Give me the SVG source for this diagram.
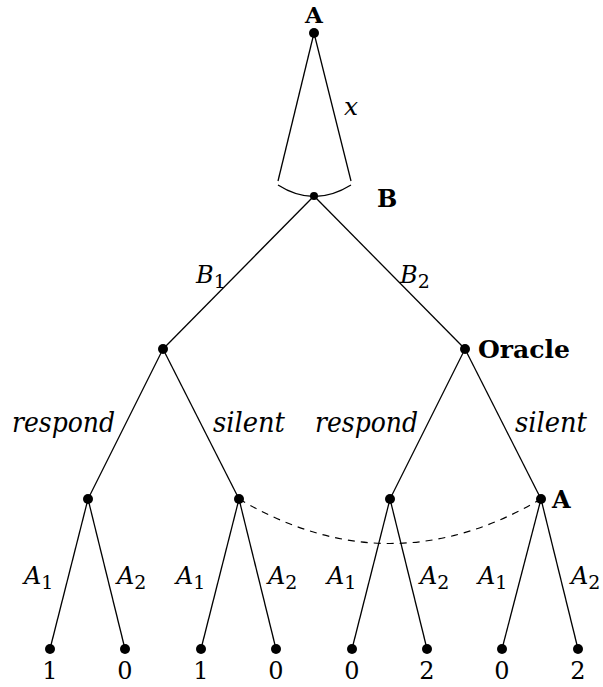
<svg xmlns="http://www.w3.org/2000/svg" width="603" height="687" viewBox="0 0 603 687">
<style>
.e{stroke:#000;stroke-width:1.3;fill:none}
.d{stroke:#000;stroke-width:1.2;fill:none;stroke-dasharray:7,6}
.n{fill:#000}
text{font-size:26px;fill:#000}
.i{font-style:italic;font-size:27px}
.b{font-weight:bold;font-size:27px}
.s{font-style:normal;font-size:19px}
.m{text-anchor:middle}
</style>
<rect width="603" height="687" fill="#fff"/>
<g font-family="'DejaVu Serif', serif">
<g id="connectors">
<line class="e" x1="314" y1="33" x2="278" y2="181"/>
<line class="e" x1="314" y1="33" x2="351" y2="181"/>
<path class="e" d="M278,185 Q314,208 351,185"/>
<line class="e" x1="314" y1="196" x2="163" y2="349"/>
<line class="e" x1="314" y1="196" x2="465" y2="349"/>
<line class="e" x1="163" y1="349" x2="88" y2="499"/>
<line class="e" x1="163" y1="349" x2="239" y2="499"/>
<line class="e" x1="465" y1="349" x2="390" y2="499"/>
<line class="e" x1="465" y1="349" x2="541" y2="499"/>
<line class="e" x1="88" y1="499" x2="50" y2="649"/>
<line class="e" x1="88" y1="499" x2="125" y2="649"/>
<line class="e" x1="239" y1="499" x2="201" y2="649"/>
<line class="e" x1="239" y1="499" x2="276" y2="649"/>
<line class="e" x1="390" y1="499" x2="352" y2="649"/>
<line class="e" x1="390" y1="499" x2="427" y2="649"/>
<line class="e" x1="541" y1="499" x2="502" y2="649"/>
<line class="e" x1="541" y1="499" x2="578" y2="649"/>
<path class="d" d="M239,499 Q390,588 541,499"/>
<text class="i" x="344" y="115" style="font-size:25px">x</text>
<text class="i" x="196" y="283" style="font-size:24px">B<tspan class="s" dy="5">1</tspan></text>
<text class="i" x="400" y="283" style="font-size:24px">B<tspan class="s" dy="5">2</tspan></text>
<text class="i" x="12" y="432" textLength="103" lengthAdjust="spacingAndGlyphs">respond</text>
<text class="i" x="213" y="432" textLength="72" lengthAdjust="spacingAndGlyphs">silent</text>
<text class="i" x="315" y="432" textLength="103" lengthAdjust="spacingAndGlyphs">respond</text>
<text class="i" x="515" y="432" textLength="72" lengthAdjust="spacingAndGlyphs">silent</text>
<text class="i" x="24" y="584" style="font-size:24px">A<tspan class="s" dy="5">1</tspan></text>
<text class="i" x="117" y="584" style="font-size:24px">A<tspan class="s" dy="5">2</tspan></text>
<text class="i" x="176" y="584" style="font-size:24px">A<tspan class="s" dy="5">1</tspan></text>
<text class="i" x="268" y="584" style="font-size:24px">A<tspan class="s" dy="5">2</tspan></text>
<text class="i" x="327" y="584" style="font-size:24px">A<tspan class="s" dy="5">1</tspan></text>
<text class="i" x="420" y="584" style="font-size:24px">A<tspan class="s" dy="5">2</tspan></text>
<text class="i" x="478" y="584" style="font-size:24px">A<tspan class="s" dy="5">1</tspan></text>
<text class="i" x="571" y="584" style="font-size:24px">A<tspan class="s" dy="5">2</tspan></text>
</g>
<g id="root"><circle class="n" cx="314" cy="33" r="5"/><text class="b m" x="314" y="23" style="font-size:23px">A</text></g>
<g id="nodeB"><circle class="n" cx="314" cy="196" r="4"/><text class="b" x="377" y="207" style="font-size:24px">B</text></g>
<g id="n21"><circle class="n" cx="163" cy="349" r="5"/></g>
<g id="oracle"><circle class="n" cx="465" cy="349" r="5"/><text class="b" x="478" y="358" style="font-size:24px" textLength="92" lengthAdjust="spacingAndGlyphs">Oracle</text></g>
<g id="n31"><circle class="n" cx="88" cy="499" r="5"/></g>
<g id="n32"><circle class="n" cx="239" cy="499" r="5"/></g>
<g id="n33"><circle class="n" cx="390" cy="499" r="5"/></g>
<g id="n34"><circle class="n" cx="541" cy="499" r="5"/><text class="b" x="552" y="508" style="font-size:24px">A</text></g>
<g id="l1"><circle class="n" cx="50" cy="649" r="5"/><text class="m" x="50" y="679" style="font-size:24px">1</text></g>
<g id="l2"><circle class="n" cx="125" cy="649" r="5"/><text class="m" x="125" y="679" style="font-size:24px">0</text></g>
<g id="l3"><circle class="n" cx="201" cy="649" r="5"/><text class="m" x="201" y="679" style="font-size:24px">1</text></g>
<g id="l4"><circle class="n" cx="276" cy="649" r="5"/><text class="m" x="276" y="679" style="font-size:24px">0</text></g>
<g id="l5"><circle class="n" cx="352" cy="649" r="5"/><text class="m" x="352" y="679" style="font-size:24px">0</text></g>
<g id="l6"><circle class="n" cx="427" cy="649" r="5"/><text class="m" x="427" y="679" style="font-size:24px">2</text></g>
<g id="l7"><circle class="n" cx="502" cy="649" r="5"/><text class="m" x="502" y="679" style="font-size:24px">0</text></g>
<g id="l8"><circle class="n" cx="578" cy="649" r="5"/><text class="m" x="578" y="679" style="font-size:24px">2</text></g>
</g>
</svg>
